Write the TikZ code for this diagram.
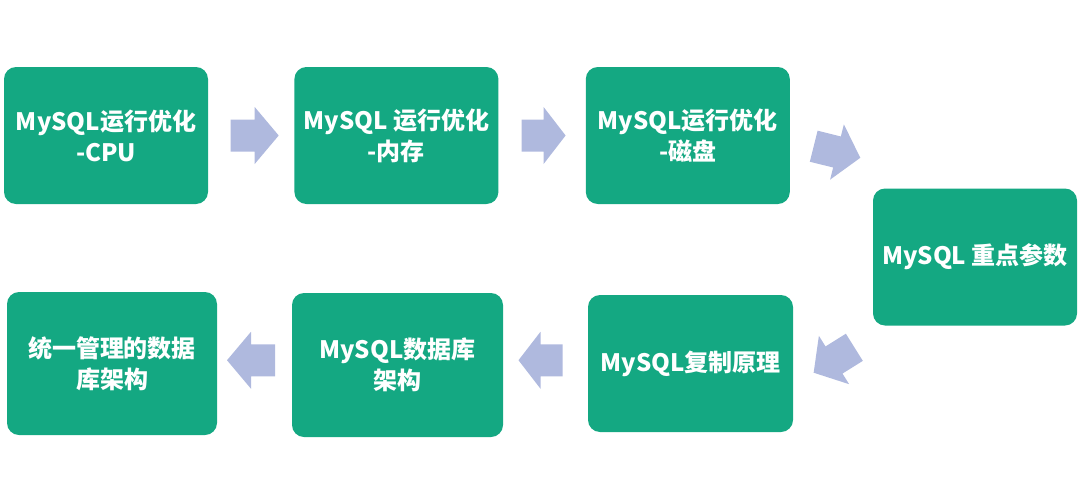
\documentclass[tikz,border=0pt]{standalone}
\usepackage{fontspec}
\setmainfont{Noto Sans CJK SC}
\usetikzlibrary{positioning, calc}
\definecolor{boxgreen}{HTML}{14A882}
\definecolor{arrowblue}{HTML}{AFB9DE}

\begin{document}
\begin{tikzpicture}[
    x=1pt, y=-1pt,
    % Define a custom style for the stage boxes
    stagebox/.style={
        fill=boxgreen,
        rounded corners=12pt,
        text=white,
        font=\fontsize{24}{31}\selectfont\bfseries,
        align=center,
        minimum width=204pt,
        minimum height=137pt
    },
    % Fat block arrow between the boxes
    fatarrow/.pic={
        \fill[arrowblue] (-24,-16) -- (0,-16) -- (0,-28.5) -- (24,0) -- (0,28.5) -- (0,16) -- (-24,16) -- cycle;
    },
    shortarrow/.pic={
        \fill[arrowblue] (-22,-16) -- (0,-16) -- (0,-28.5) -- (22,0) -- (0,28.5) -- (0,16) -- (-22,16) -- cycle;
    }
]
\useasboundingbox (0,0) rectangle (1080,501);

% Define nodes using the custom style
\node[stagebox] (cpu) at (106,135.5) {MySQL运行优化\\-CPU};
\node[stagebox, right=86pt of cpu] (mem) {MySQL 运行优化\\-内存};
\node[stagebox, right=87pt of mem] (disk) {MySQL运行优化\\-磁盘};
\node[stagebox] (param) at (975,257) {MySQL 重点参数};
\node[stagebox, minimum width=205pt] (repl) at (690.5,363.5) {MySQL复制原理};
\node[stagebox, minimum width=211pt, minimum height=144pt] (arch) at (397.5,365) {MySQL数据库\\架构};
\node[stagebox, minimum width=210pt, minimum height=143pt] (unified) at (112,363.5) {统一管理的数据\\库架构};

% Arrows between the boxes
\pic[xshift=3.5pt] at ($(cpu.east)!0.5!(mem.west)$) {fatarrow};
\pic[xshift=1.5pt] at ($(mem.east)!0.5!(disk.west)$) {shortarrow};
\pic[rotate=-14] at (837,152) {fatarrow}; % disk to param
\pic[rotate=-148] at (834,360) {fatarrow}; % param to repl
\pic[rotate=180, xshift=5pt, yshift=-4pt] at ($(repl.west)!0.5!(arch.east)$) {shortarrow};
\pic[rotate=180, xshift=3.5pt, yshift=-4pt] at ($(arch.west)!0.5!(unified.east)$) {fatarrow};

\end{tikzpicture}
\end{document}
